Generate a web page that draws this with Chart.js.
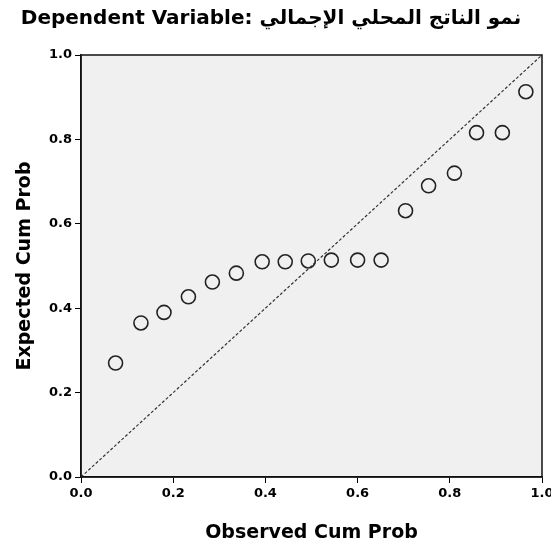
<!DOCTYPE html>
<html>
<head>
<meta charset="utf-8">
<script src="https://cdn.jsdelivr.net/npm/chart.js@4.4.0/dist/chart.umd.min.js"></script>
<style>
  html, body { margin: 0; padding: 0; background: #fff; }
  #wrap { width: 551px; height: 547px; position: relative; }
</style>
</head>
<body>
<div id="wrap"><canvas id="ppChart" width="551" height="547"></canvas></div>
<script>
  const titleText = "Dependent Variable: نمو الناتج المحلي الإجمالي";
  const xTitle = "Observed Cum Prob";
  const yTitle = "Expected Cum Prob";
  const tickValues = [0, 0.2, 0.4, 0.6, 0.8, 1.0];

  const observedCum = [0.075, 0.13, 0.18, 0.233, 0.285, 0.337, 0.393, 0.443, 0.493, 0.543, 0.6, 0.651, 0.704, 0.754, 0.81, 0.858, 0.914, 0.965];
  const expectedCum = [0.27, 0.365, 0.39, 0.427, 0.462, 0.483, 0.51, 0.51, 0.512, 0.514, 0.514, 0.514, 0.631, 0.69, 0.72, 0.816, 0.816, 0.913];

  const points = observedCum.map((x, i) => ({ x: x, y: expectedCum[i] }));

  // grey plot background + box around the plot
  const plotBox = {
    id: "plotBox",
    beforeDraw(chart) {
      const { ctx, chartArea: a } = chart;
      ctx.save();
      ctx.fillStyle = "#f0f0f0";
      ctx.fillRect(a.left, a.top, a.right - a.left, a.bottom - a.top);
      ctx.restore();
    },
    afterDraw(chart) {
      const { ctx, chartArea: a } = chart;
      ctx.save();
      ctx.strokeStyle = "#111";
      ctx.lineWidth = 1.5;
      ctx.strokeRect(a.left, a.top, a.right - a.left, a.bottom - a.top);
      ctx.restore();
    }
  };

  const tickFont = { family: "DejaVu Sans", size: 13, weight: "bold" };
  const axisFont = { family: "DejaVu Sans", size: 19, weight: "bold" };

  const ctx = document.getElementById("ppChart").getContext("2d");
  new Chart(ctx, {
    type: "scatter",
    data: {
      datasets: [
        {
          type: "line",
          data: [{ x: 0, y: 0 }, { x: 1, y: 1 }],
          borderColor: "#333",
          borderWidth: 1.2,
          borderDash: [3, 2],
          pointRadius: 0,
          fill: false
        },
        {
          data: points,
          pointStyle: "circle",
          pointRadius: 7,
          borderColor: "#222",
          borderWidth: 1.6,
          backgroundColor: "rgba(0,0,0,0)"
        }
      ]
    },
    options: {
      responsive: false,
      animation: false,
      layout: { padding: { top: 0, right: 9, left: 0, bottom: 0 } },
      plugins: {
        legend: { display: false },
        tooltip: { enabled: false },
        title: {
          display: true,
          text: titleText,
          color: "#000",
          font: { family: "DejaVu Sans", size: 20, weight: "bold" },
          padding: { top: 7, bottom: 24 }
        }
      },
      scales: {
        x: {
          type: "linear",
          min: 0,
          max: 1,
          afterBuildTicks: (s) => { s.ticks = tickValues.map(v => ({ value: v })); },
          afterFit: (s) => { s.height = 70; s.paddingRight = 0; },
          ticks: {
            color: "#000",
            font: tickFont,
            callback: (v) => v.toFixed(1),
            maxRotation: 0,
            padding: 3
          },
          grid: { drawOnChartArea: false, drawTicks: true, tickLength: 6, color: "#000" },
          border: { display: true, color: "#111", width: 1.5 },
          title: {
            display: true,
            text: xTitle,
            color: "#000",
            font: axisFont,
            padding: { top: 0, bottom: 3 }
          }
        },
        y: {
          type: "linear",
          min: 0,
          max: 1,
          afterBuildTicks: (s) => { s.ticks = tickValues.map(v => ({ value: v })); },
          afterFit: (s) => { s.width = 81; },
          ticks: {
            color: "#000",
            font: tickFont,
            callback: (v) => v.toFixed(1),
            padding: 3
          },
          grid: { drawOnChartArea: false, drawTicks: true, tickLength: 6, color: "#000" },
          border: { display: true, color: "#111", width: 1.5 },
          title: {
            display: true,
            text: yTitle,
            color: "#000",
            font: axisFont,
            padding: { top: 14, bottom: 0 }
          }
        }
      }
    },
    plugins: [plotBox]
  });
</script>
</body>
</html>
